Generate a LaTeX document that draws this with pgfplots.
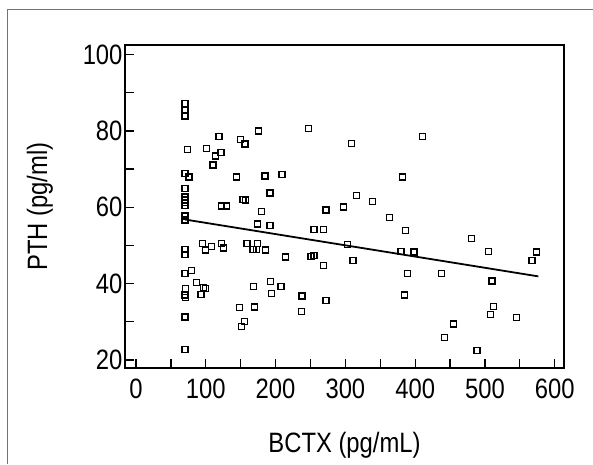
\documentclass[border=0pt]{standalone}
\usepackage{pgfplots}
\pgfplotsset{compat=1.18}
\usepackage{fontspec}
\setmainfont{Liberation Sans}[FakeStretch=0.85]

\pgfplotstableread{
x y
70 87.2
70 85.4
70 83.9
70 68.9
70 64.9
70 62.7
70 61.9
70 61.2
70 60.5
70 57.7
70 56.7
70 49.0
70 47.7
70 42.7
71 38.8
70 37.0
71 36.4
70 31.3
70 22.8
74 75.2
76 67.9
79.5 43.5
86.5 40.3
93 37.1
97 39.0
100 38.8
95.7 50.5
100 48.8
108 49.7
101 75.4
110.3 71.1
113.5 73.4
119 78.5
121.6 74.3
122.7 60.3
129.7 60.3
122.7 50.5
125.4 49.3
144.3 67.9
149.7 77.8
156.2 76.6
153.5 62.1
156.8 61.9
148.1 33.8
155.1 30.0
151.4 28.7
158.9 50.5
167.6 49.0
174.1 50.5
173 49.0
168.6 39.2
169.7 33.9
175.7 80.0
174.1 55.6
179.5 58.9
184.9 68.2
191.9 63.7
191.9 55.3
185.9 48.8
193 40.6
194.1 37.4
209.2 68.6
207.6 39.2
214.6 47.0
237.8 36.8
237.3 32.7
247 80.6
250.8 47.1
255.1 47.3
255.1 54.2
268.6 54.2
268.6 44.7
272.4 59.3
272.4 35.5
297.3 60.1
302.7 50.2
309.2 76.7
310.8 46.0
316.2 63.1
338.9 61.5
363.2 57.3
382.2 67.9
379.5 48.4
386.5 54.0
389.2 42.7
384.9 37.0
398.4 48.3
410.3 78.6
437.8 42.7
441.6 25.9
455.1 29.4
481.1 51.9
488.6 22.4
505.4 48.4
510.3 40.7
511.9 34.0
507.6 32.0
545.4 31.2
567.6 46.0
574.1 48.3
}\pthdata

\begin{document}
\begin{tikzpicture}[x=1pt,y=1pt]
\path[use as bounding box] (0,0) rectangle (593,-464);
\draw[black!55, line width=1pt] (7.5,-464) -- (7.5,-9.5) -- (593,-9.5);
\begin{axis}[
  at={(125pt,-368pt)}, anchor=south west,
  scale only axis, width=439pt, height=323pt,
  xmin=-15.8, xmax=613.3, ymin=17.9, ymax=102.5,
  axis line style={line width=1.8pt},
  xtick={0,100,...,600}, ytick={20,40,...,100},
  minor x tick num=1, minor y tick num=1,
  xtick pos=left, ytick pos=left,
  tick align=inside,
  major tick length=9pt, minor tick length=9pt,
  every tick/.style={black, line width=1.2pt},
  /pgf/number format/assume math mode=true,
  ticklabel style={font=\fontsize{28}{32}\selectfont},
  xticklabel style={yshift=-7pt},
  yticklabel style={xshift=1pt},
  label style={font=\fontsize{28}{32}\selectfont},
  xlabel={BCTX (pg/mL)},
  ylabel={PTH (pg/ml)},
  xlabel style={at={(axis description cs:0.5,-0.2607)}, anchor=base},
  ylabel style={at={(axis description cs:-0.194,0.5)}, anchor=center},
]
\addplot[only marks, mark=square, mark size=3pt,
  mark options={line width=1.3pt, black}] table[x=x,y=y] {\pthdata};
\addplot[black, line width=1.8pt] coordinates {(70,56.8) (576.5,41.9)};
\end{axis}
\end{tikzpicture}
\end{document}
